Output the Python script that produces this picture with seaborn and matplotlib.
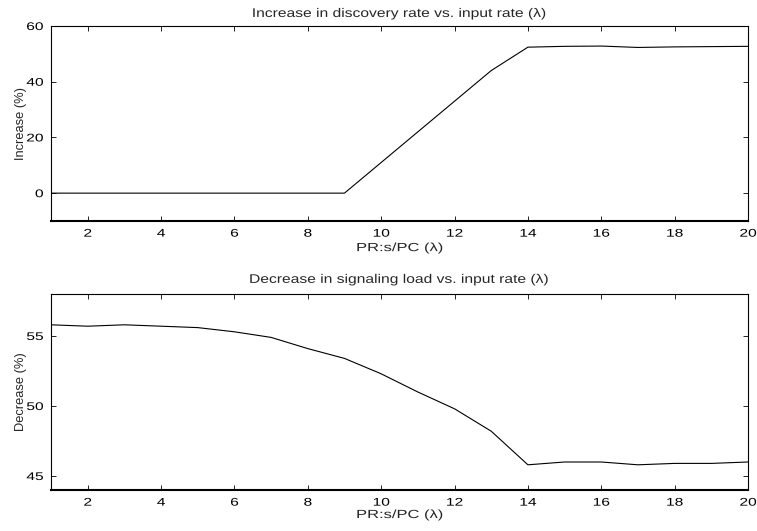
import matplotlib
matplotlib.use("Agg")
import matplotlib.pyplot as plt
import seaborn as sns
import pandas as pd
from matplotlib.patheffects import AbstractPathEffect
from matplotlib.transforms import Affine2D

# Input rate (PR:s/PC)
rate = list(range(1, 21))
# Increase in discovery rate (%)
discovery_increase = [0, 0, 0, 0, 0, 0, 0, 0, 0, 11, 22, 33, 44, 52.4,
                      52.7, 52.8, 52.3, 52.5, 52.6, 52.7]
# Decrease in signaling load (%)
signaling_decrease = [55.8, 55.7, 55.8, 55.7, 55.6, 55.3, 54.9, 54.1, 53.4, 52.3,
                      51.0, 49.8, 48.2, 45.8, 46.0, 46.0, 45.8, 45.9, 45.9, 46.0]


class WideText(AbstractPathEffect):
    """Draw text glyphs widened horizontally around an anchor (0=left, 0.5=center, 1=right)."""

    def __init__(self, sx, anchor=0.5):
        super().__init__()
        self.sx = sx
        self.anchor = anchor

    def draw_path(self, renderer, gc, tpath, affine, rgbFace=None):
        xs = tpath.vertices[:, 0]
        x0, x1 = xs.min(), xs.max()
        cx = x0 + self.anchor * (x1 - x0)
        widen = Affine2D().translate(-cx, 0).scale(self.sx, 1).translate(cx, 0)
        renderer.draw_path(gc, tpath, widen + affine, rgbFace)


sns.set_theme(style="white")
plt.rcParams["font.family"] = ["Liberation Sans", "DejaVu Sans"]

df = pd.DataFrame({"rate": rate, "inc": discovery_increase, "dec": signaling_decrease})

fig = plt.figure(figsize=(7.57, 5.31), dpi=100)
W, H = 757, 531
ax1 = fig.add_axes([51 / W, 1 - 221 / H, (748 - 51) / W, (221 - 26) / H])
ax2 = fig.add_axes([51 / W, 1 - 490 / H, (748 - 51) / W, (490 - 294) / H])

sns.lineplot(data=df, x="rate", y="inc", ax=ax1, color="black", linewidth=0.8)
sns.lineplot(data=df, x="rate", y="dec", ax=ax2, color="black", linewidth=0.8)

panels = [
    (ax1, "Increase in discovery rate vs. input rate (λ)", "Increase (%)", (-10, 60), [0, 20, 40, 60], 6.5, 2.5),
    (ax2, "Decrease in signaling load vs. input rate (λ)", "Decrease (%)", (44, 58), [45, 50, 55], 8.0, 1.0),
]
for ax, title, ylabel, ylim, yticks, tpad, xpad in panels:
    ax.set_xlim(1, 20)
    ax.set_ylim(*ylim)
    ax.set_xticks(range(2, 21, 2))
    ax.set_yticks(yticks)
    t = ax.set_title(title, fontsize=9, pad=tpad)
    t.set_path_effects([WideText(1.25)])
    xl = ax.set_xlabel("PR:s/PC (λ)", fontsize=8.5, labelpad=xpad)
    xl.set_path_effects([WideText(1.4)])
    ax.set_ylabel(ylabel, fontsize=9.3, labelpad=3)
    ax.tick_params(direction="in", length=3.8, width=0.6, colors="black", labelsize=8,
                   top=True, right=True, bottom=True, left=True, pad=5.5)
    for lab in ax.get_xticklabels():
        lab.set_path_effects([WideText(1.4)])
    for lab in ax.get_yticklabels():
        lab.set_path_effects([WideText(1.4, anchor=1.0)])
    for sp in ax.spines.values():
        sp.set_color("black")
        sp.set_linewidth(0.8)
    ax.spines["bottom"].set_linewidth(1.5)

fig.savefig("out.png", dpi=100)
